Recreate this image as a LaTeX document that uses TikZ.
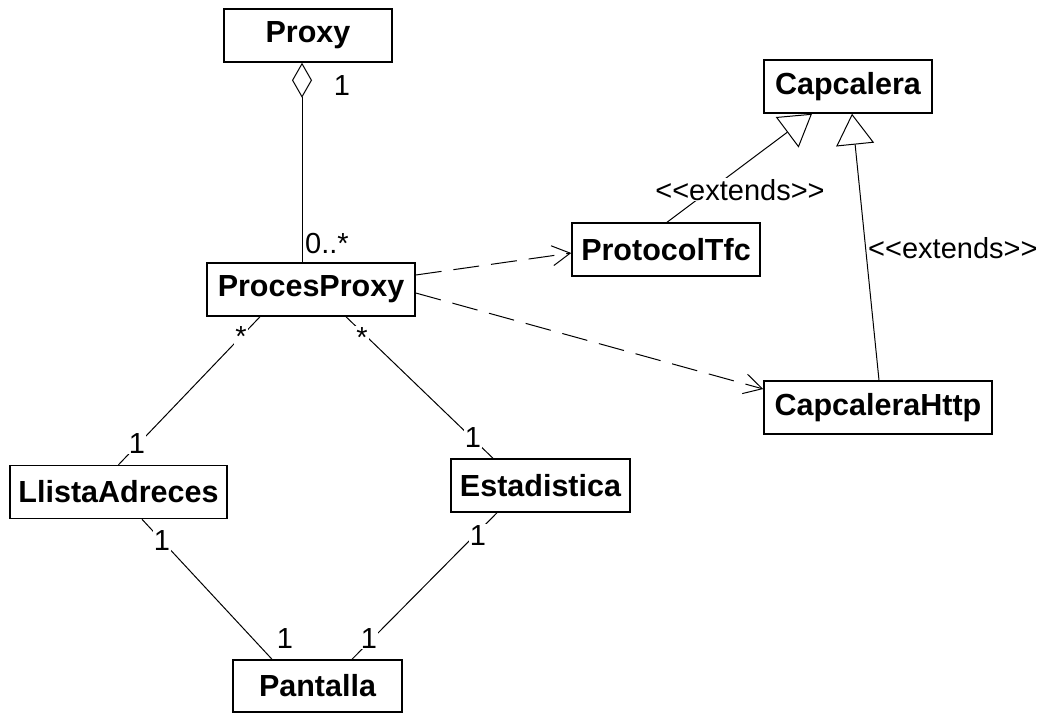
\documentclass[tikz,border=0pt]{standalone}
\usepackage{fontspec}
\setmainfont{Liberation Sans}
\usetikzlibrary{arrows.meta,calc}
\newcommand{\extlbl}{<\kern0pt<extends>\kern0pt>}
\begin{document}
\begin{tikzpicture}[x=1pt,y=-1pt,
  cls/.style={draw, line width=1.5pt, minimum height=53pt, inner sep=0pt,
    font=\fontsize{30.5}{36}\selectfont\bfseries},
  lbl/.style={font=\fontsize{29}{34}\selectfont, inner sep=1pt, anchor=base},
  onl/.style={lbl, fill=white},
  conn/.style={line width=1pt},
  dep/.style={conn, dash pattern=on 26pt off 12pt,
    -{Straight Barb[length=18pt,width=20pt,line width=1pt]}},
  gen/.style={conn, -{Triangle[open,length=31pt,width=38pt,line width=1pt]}},
  agg/.style={conn, {Diamond[open,length=35pt,width=20pt,line width=1pt]}-},
]
\useasboundingbox (0,0) rectangle (1049,713);
% classes
\node[cls, minimum width=168pt] (proxy) at (308,35.5) {Proxy};
\node[cls, minimum width=208pt] (pp) at (311,289.5) {ProcesProxy};
\node[cls, minimum width=168pt] (cap) at (848,86.5) {Capcalera};
\node[cls, minimum width=188pt] (ptfc) at (666,249.5) {ProtocolTfc};
\node[cls, minimum width=228pt] (chttp) at (878,407.5) {CapcaleraHttp};
\node[cls, minimum width=217pt] (lla) at (118.5,492) {LlistaAdreces};
\node[cls, minimum width=179pt] (est) at (540.5,485.5) {Estadistica};
\node[cls, minimum width=169pt, minimum height=52pt] (pant) at (317.5,686) {Pantalla};
% connectors
\draw[agg] ($(proxy.south)+(-6,0)$) -- ($(pp.north)+(-9,0)$);
\draw[dep] ($(pp.east)+(0,-14.5)$) -- ($(ptfc.west)+(0,3.5)$);
\draw[dep] ($(pp.east)+(0,3.5)$) -- ($(chttp.west)+(0,-18.5)$);
\draw[gen] ($(ptfc.north)+(1,0)$) -- ($(cap.south)+(-36,0)$);
\draw[gen] ($(chttp.north)+(1,0)$) -- ($(cap.south)+(4,0)$);
\draw[conn] ($(pp.south)+(-51,0)$) -- (lla.north);
\draw[conn] ($(pp.south)+(35,0)$) -- ($(est.north)+(-47.5,0)$);
\draw[conn] ($(lla.south)+(23.5,0)$) -- ($(pant.north)+(-45.5,0)$);
\draw[conn] ($(est.south)+(-43.5,0)$) -- ($(pant.north)+(34.5,0)$);
% labels
\node[lbl] (m1) at (342,95) {1};
\node[lbl, anchor=base west] (m2) at (304,253) {0..*};
\node[onl] (e1) at (740,200) {\extlbl};
\node[lbl, anchor=base west] (e2) at (867,258) {\extlbl};
\node[onl] (s1) at (241,346) {*};
\node[onl] (s2) at (362,347) {*};
\node[onl] (o1) at (137,453) {1};
\node[onl] (o2) at (473,447) {1};
\node[onl] (o3) at (162,550) {1};
\node[onl] (o4) at (478,545) {1};
\node[lbl] (o5) at (285,648) {1};
\node[onl] (o6) at (369,648) {1};
\end{tikzpicture}
\end{document}
